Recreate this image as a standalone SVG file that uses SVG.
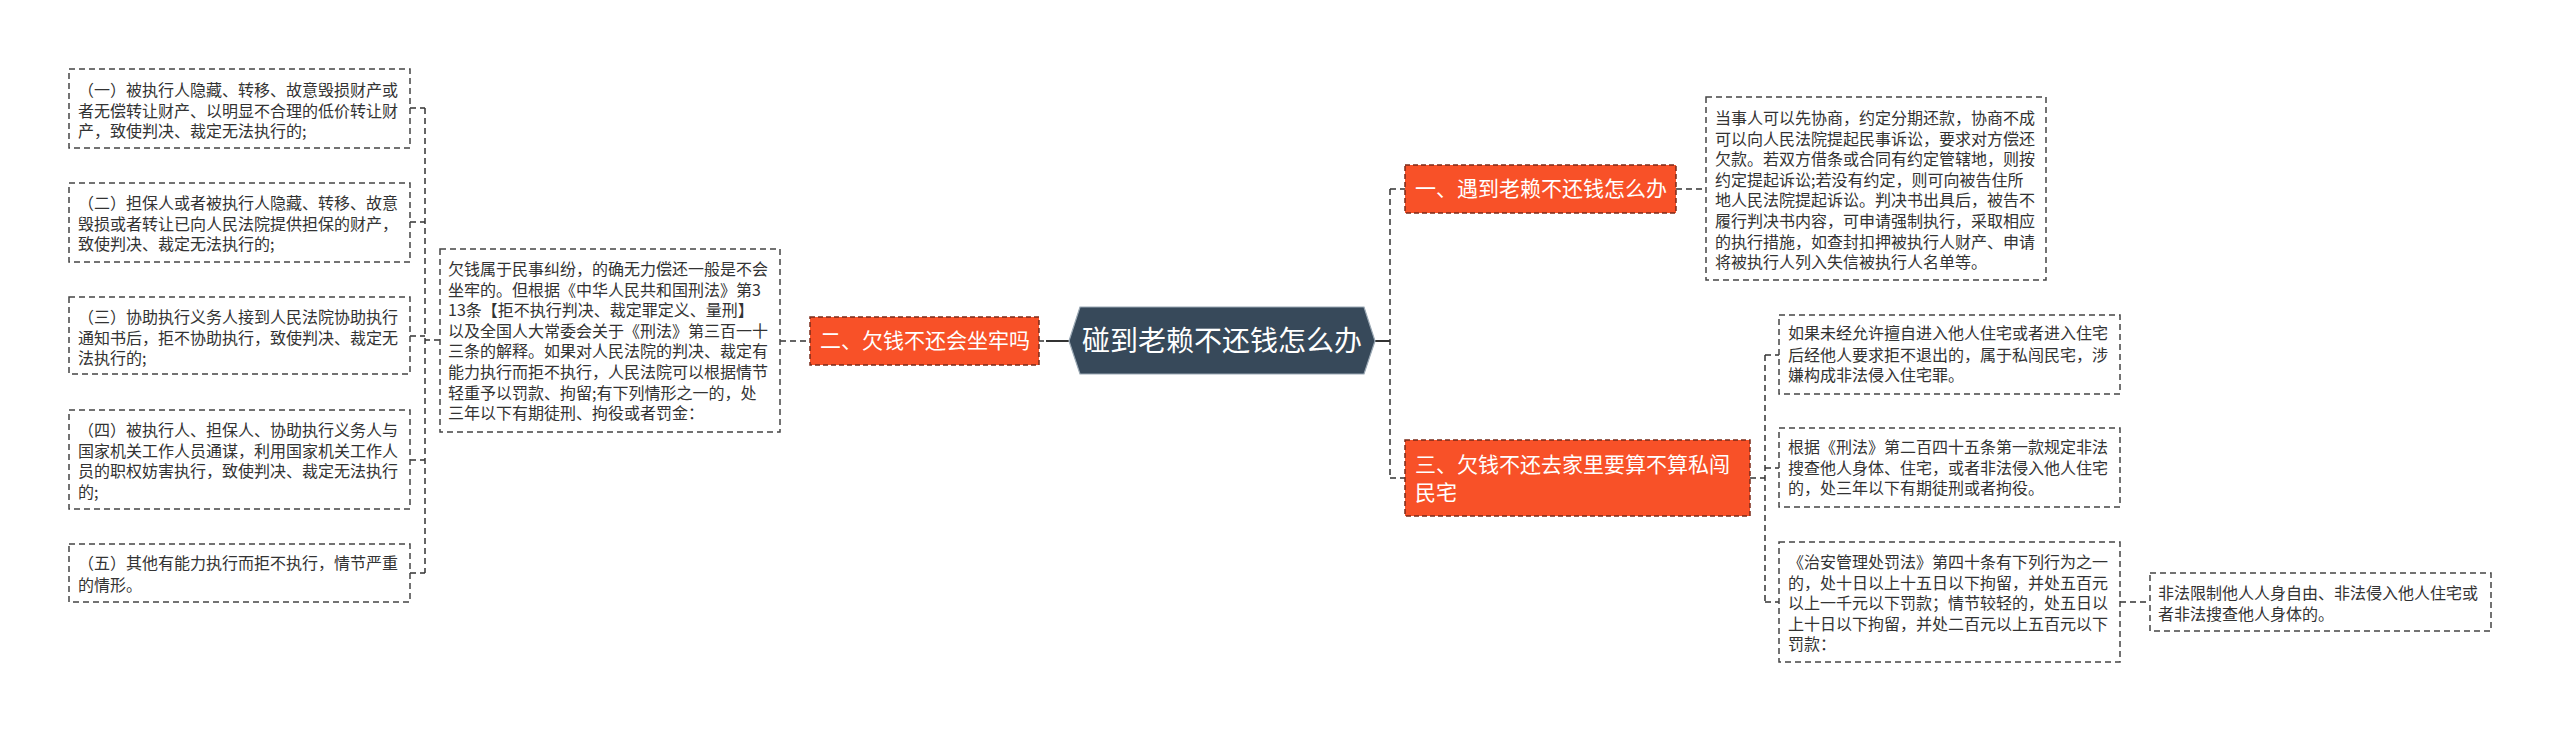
<svg xmlns="http://www.w3.org/2000/svg" width="2560" height="732" viewBox="0 0 2560 732">
<style>
.bg{fill:#ffffff}
.leaf{fill:#ffffff;stroke:#444;stroke-width:1.5;stroke-dasharray:6 4}
.sub{fill:#F85128;stroke:#7a2a18;stroke-width:1.5;stroke-dasharray:5 3}
.root{fill:#37495A;stroke:#9aa8b4;stroke-width:1.2}
.t{font-family:"Noto Sans CJK SC","Microsoft YaHei",sans-serif;font-size:16px;fill:#333}
.ts{font-family:"Noto Sans CJK SC","Microsoft YaHei",sans-serif;font-size:21px;fill:#ffffff}
.tr{font-family:"Noto Sans CJK SC","Microsoft YaHei",sans-serif;font-size:28px;fill:#ffffff}
.c{fill:none;stroke:#333;stroke-width:1.5;stroke-dasharray:6 4}
.cs{fill:none;stroke:#333;stroke-width:2}
</style>
<rect class="bg" x="0" y="0" width="2560" height="732"/>
<g id="connectors">
  <path class="cs" d="M1069 341 H1046"/>
  <path class="c" d="M1044 341 H1039"/>
  <path class="c" d="M780 341 H810"/>
  <path class="c" d="M440 340 H425 M425 108 V573 M410 108 H425 M410 222 H425 M410 336 H425 M410 460 H425 M410 573 H425"/>
  <path class="cs" d="M1375 341 H1390"/>
  <path class="c" d="M1390 189 V478 M1390 189 H1405 M1390 478 H1405"/>
  <path class="c" d="M1676 189 H1706"/>
  <path class="c" d="M1750 478 H1765 M1765 355 V602 M1765 355 H1779 M1765 468 H1779 M1765 602 H1779"/>
  <path class="c" d="M2120 602 H2150"/>
</g>
<g id="root">
  <polygon class="root" points="1069,341 1080,307 1364,307 1375,341 1364,374 1080,374"/>
  <text class="tr" x="1222" y="351" text-anchor="middle">碰到老赖不还钱怎么办</text>
</g>
<g id="b2">
  <rect class="sub" x="810" y="317" width="229" height="48"/>
  <text class="ts" x="820" y="348">二、欠钱不还会坐牢吗</text>
</g>
<g id="b2text">
  <rect class="leaf" x="440" y="249" width="340" height="183"/>
  <text class="t" x="448" y="275">
    <tspan x="448" y="275">欠钱属于民事纠纷，的确无力偿还一般是不会</tspan>
    <tspan x="448" y="295.6">坐牢的。但根据《中华人民共和国刑法》第3</tspan>
    <tspan x="448" y="316.2">13条【拒不执行判决、裁定罪定义、量刑】</tspan>
    <tspan x="448" y="336.8">以及全国人大常委会关于《刑法》第三百一十</tspan>
    <tspan x="448" y="357.4">三条的解释。如果对人民法院的判决、裁定有</tspan>
    <tspan x="448" y="378">能力执行而拒不执行，人民法院可以根据情节</tspan>
    <tspan x="448" y="398.6">轻重予以罚款、拘留;有下列情形之一的，处</tspan>
    <tspan x="448" y="419.2">三年以下有期徒刑、拘役或者罚金：</tspan>
  </text>
</g>
<g id="l1">
  <rect class="leaf" x="69" y="69" width="341" height="79"/>
  <text class="t"><tspan x="78" y="96">（一）被执行人隐藏、转移、故意毁损财产或</tspan><tspan x="78" y="116.6">者无偿转让财产、以明显不合理的低价转让财</tspan><tspan x="78" y="137.2">产，致使判决、裁定无法执行的;</tspan></text>
</g>
<g id="l2">
  <rect class="leaf" x="69" y="183" width="341" height="79"/>
  <text class="t"><tspan x="78" y="209">（二）担保人或者被执行人隐藏、转移、故意</tspan><tspan x="78" y="229.6">毁损或者转让已向人民法院提供担保的财产，</tspan><tspan x="78" y="250.2">致使判决、裁定无法执行的;</tspan></text>
</g>
<g id="l3">
  <rect class="leaf" x="69" y="297" width="341" height="77"/>
  <text class="t"><tspan x="78" y="323">（三）协助执行义务人接到人民法院协助执行</tspan><tspan x="78" y="343.6">通知书后，拒不协助执行，致使判决、裁定无</tspan><tspan x="78" y="364.2">法执行的;</tspan></text>
</g>
<g id="l4">
  <rect class="leaf" x="69" y="410" width="341" height="99"/>
  <text class="t"><tspan x="78" y="436">（四）被执行人、担保人、协助执行义务人与</tspan><tspan x="78" y="456.6">国家机关工作人员通谋，利用国家机关工作人</tspan><tspan x="78" y="477.2">员的职权妨害执行，致使判决、裁定无法执行</tspan><tspan x="78" y="497.8">的;</tspan></text>
</g>
<g id="l5">
  <rect class="leaf" x="69" y="544" width="341" height="58"/>
  <text class="t"><tspan x="78" y="569">（五）其他有能力执行而拒不执行，情节严重</tspan><tspan x="78" y="590.6">的情形。</tspan></text>
</g>
<g id="b1">
  <rect class="sub" x="1405" y="165" width="271" height="48"/>
  <text class="ts" x="1415" y="196">一、遇到老赖不还钱怎么办</text>
</g>
<g id="b1text">
  <rect class="leaf" x="1706" y="97" width="340" height="183"/>
  <text class="t"><tspan x="1715" y="124">当事人可以先协商，约定分期还款，协商不成</tspan><tspan x="1715" y="144.6">可以向人民法院提起民事诉讼，要求对方偿还</tspan><tspan x="1715" y="165.2">欠款。若双方借条或合同有约定管辖地，则按</tspan><tspan x="1715" y="185.8">约定提起诉讼;若没有约定，则可向被告住所</tspan><tspan x="1715" y="206.4">地人民法院提起诉讼。判决书出具后，被告不</tspan><tspan x="1715" y="227">履行判决书内容，可申请强制执行，采取相应</tspan><tspan x="1715" y="247.6">的执行措施，如查封扣押被执行人财产、申请</tspan><tspan x="1715" y="268.2">将被执行人列入失信被执行人名单等。</tspan></text>
</g>
<g id="b3">
  <rect class="sub" x="1405" y="440" width="345" height="76"/>
  <text class="ts"><tspan x="1415" y="472">三、欠钱不还去家里要算不算私闯</tspan><tspan x="1415" y="500">民宅</tspan></text>
</g>
<g id="r1">
  <rect class="leaf" x="1779" y="315" width="341" height="79"/>
  <text class="t"><tspan x="1788" y="339">如果未经允许擅自进入他人住宅或者进入住宅</tspan><tspan x="1788" y="360.6">后经他人要求拒不退出的，属于私闯民宅，涉</tspan><tspan x="1788" y="381.2">嫌构成非法侵入住宅罪。</tspan></text>
</g>
<g id="r2">
  <rect class="leaf" x="1779" y="428" width="341" height="79"/>
  <text class="t"><tspan x="1788" y="453">根据《刑法》第二百四十五条第一款规定非法</tspan><tspan x="1788" y="473.6">搜查他人身体、住宅，或者非法侵入他人住宅</tspan><tspan x="1788" y="494.2">的，处三年以下有期徒刑或者拘役。</tspan></text>
</g>
<g id="r3">
  <rect class="leaf" x="1779" y="542" width="341" height="120"/>
  <text class="t"><tspan x="1788" y="568">《治安管理处罚法》第四十条有下列行为之一</tspan><tspan x="1788" y="588.6">的，处十日以上十五日以下拘留，并处五百元</tspan><tspan x="1788" y="609.2">以上一千元以下罚款；情节较轻的，处五日以</tspan><tspan x="1788" y="629.8">上十日以下拘留，并处二百元以上五百元以下</tspan><tspan x="1788" y="650.4">罚款：</tspan></text>
</g>
<g id="r3a">
  <rect class="leaf" x="2150" y="573" width="341" height="58"/>
  <text class="t"><tspan x="2158" y="599">非法限制他人人身自由、非法侵入他人住宅或</tspan><tspan x="2158" y="620">者非法搜查他人身体的。</tspan></text>
</g>
</svg>
